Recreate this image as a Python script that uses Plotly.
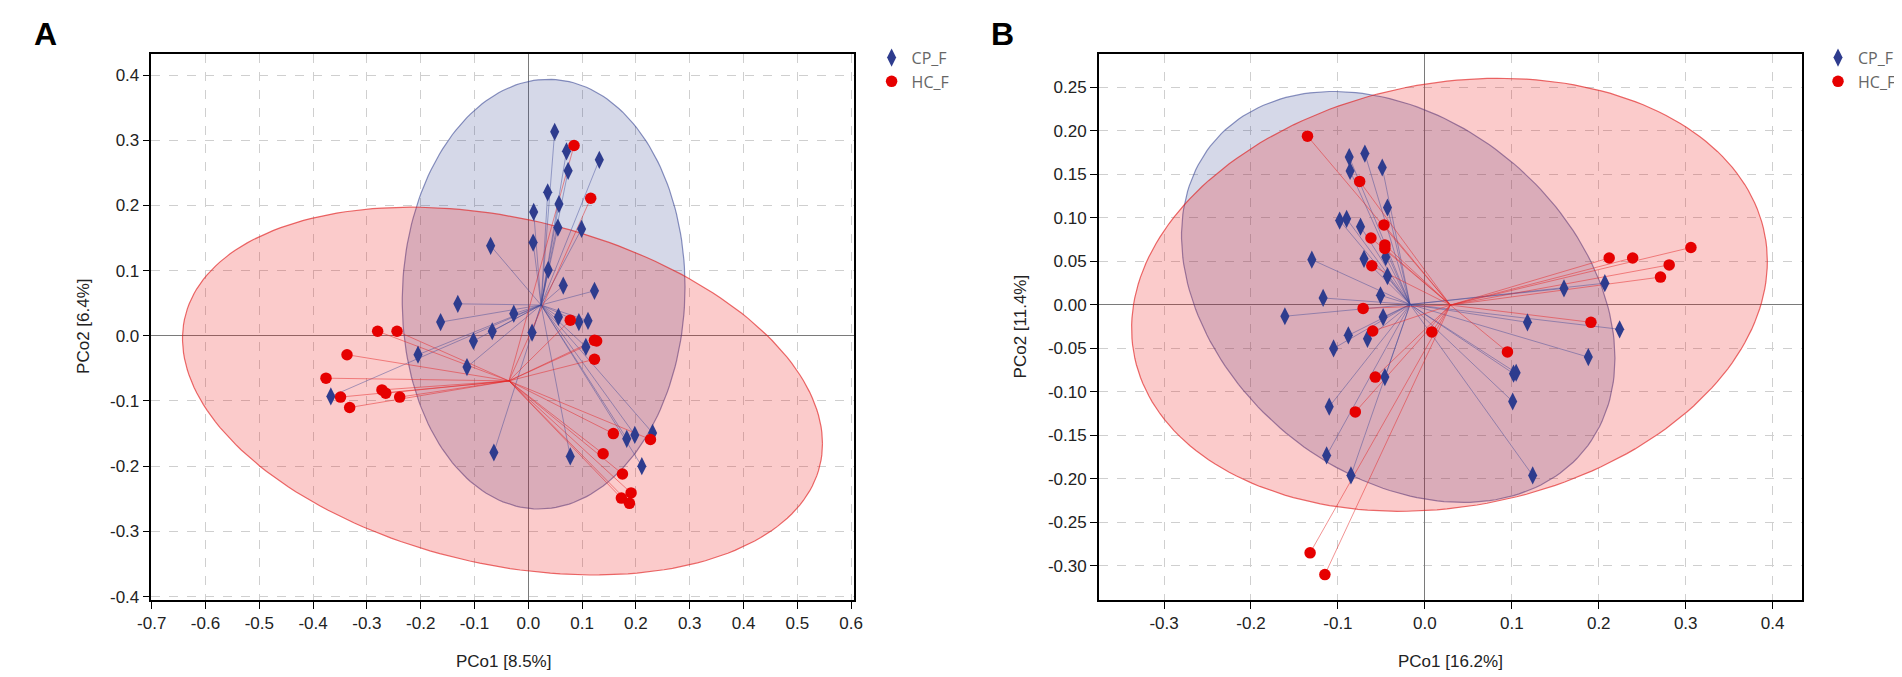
import numpy as np
import plotly.graph_objects as go
from plotly.subplots import make_subplots

# Panel A: PCoA scores (PCo1 8.5 %, PCo2 6.4 %)
a_cp_x = [0.049, 0.071, 0.074, 0.132, 0.036, 0.057, 0.010, 0.055, 0.099, 0.009, -0.070,
          0.037, 0.065, 0.123, -0.131, -0.027, -0.163, 0.056, 0.094, 0.111, -0.067, 0.007,
          -0.102, 0.107, -0.205, -0.114, -0.367, -0.064, 0.078, 0.183, 0.198, 0.231, 0.211]
a_cp_y = [0.313, 0.283, 0.253, 0.270, 0.220, 0.202, 0.190, 0.166, 0.164, 0.143, 0.138,
          0.101, 0.077, 0.069, 0.049, 0.034, 0.021, 0.029, 0.021, 0.023, 0.007, 0.005,
          -0.008, -0.017, -0.029, -0.048, -0.093, -0.179, -0.185, -0.158, -0.152, -0.149, -0.200]
a_hc_x = [0.085, 0.116, 0.078, -0.280, -0.244, 0.123, 0.127, -0.337, 0.123, -0.376, -0.349,
          -0.332, -0.272, -0.265, -0.239, 0.158, 0.227, 0.139, 0.175, 0.191, 0.173, 0.188]
a_hc_y = [0.292, 0.211, 0.024, 0.007, 0.007, -0.007, -0.008, -0.029, -0.036, -0.065, -0.094,
          -0.110, -0.083, -0.088, -0.094, -0.150, -0.159, -0.181, -0.212, -0.241, -0.249, -0.257]

# Panel B: PCoA scores (PCo1 16.2 %, PCo2 11.4 %)
b_cp_x = [-0.087, -0.069, -0.086, -0.049, -0.043, -0.098, -0.090, -0.074, -0.130, -0.070, -0.045,
          -0.043, -0.117, -0.051, -0.161, -0.048, -0.088, -0.066, -0.105, -0.046, -0.110, -0.113,
          -0.085, 0.160, 0.207, 0.118, 0.224, 0.188, 0.102, 0.105, 0.101, 0.124]
b_cp_y = [0.170, 0.174, 0.154, 0.158, 0.112, 0.097, 0.099, 0.090, 0.052, 0.053, 0.055,
          0.033, 0.008, 0.011, -0.013, -0.014, -0.035, -0.039, -0.050, -0.083, -0.117, -0.173,
          -0.196, 0.019, 0.025, -0.020, -0.028, -0.060, -0.079, -0.078, -0.111, -0.196]
b_hc_x = [-0.135, -0.075, -0.047, -0.062, -0.046, -0.046, -0.061, -0.071, -0.060, 0.008, -0.057,
          -0.080, -0.132, -0.115, 0.212, 0.239, 0.306, 0.281, 0.271, 0.191, 0.095]
b_hc_y = [0.194, 0.142, 0.092, 0.077, 0.069, 0.065, 0.045, -0.004, -0.030, -0.031, -0.083,
          -0.123, -0.285, -0.310, 0.054, 0.054, 0.066, 0.046, 0.032, -0.020, -0.054]

a_xticks = [-0.7, -0.6, -0.5, -0.4, -0.3, -0.2, -0.1, 0.0, 0.1, 0.2, 0.3, 0.4, 0.5, 0.6]
a_yticks = [-0.4, -0.3, -0.2, -0.1, 0.0, 0.1, 0.2, 0.3, 0.4]
b_xticks = [-0.3, -0.2, -0.1, 0.0, 0.1, 0.2, 0.3, 0.4]
b_yticks = [-0.30, -0.25, -0.20, -0.15, -0.10, -0.05, 0.00, 0.05, 0.10, 0.15, 0.20, 0.25]

CP_COL = '#2E3C8E'
HC_COL = '#E60000'
W, H = 1902, 677


def t_ellipse(x, y, level=0.95, nu=5, npts=200):
    # same as ggplot2 stat_ellipse(type = "t"): robust t covariance (cov.trob)
    pts = np.column_stack([x, y])
    n, p = pts.shape
    loc = pts.mean(axis=0)
    w = np.ones(n)
    for _ in range(25):
        w0 = w
        X = pts - loc
        C = (w[:, None] * X).T @ X / w.sum()
        Q = np.einsum('ij,jk,ik->i', X, np.linalg.inv(C), X)
        w = (nu + p) / (nu + Q)
        loc = (w[:, None] * pts).sum(axis=0) / w.sum()
        if np.all(np.abs(w - w0) < 0.01):
            break
    cov = (w[:, None] * X).T @ X / n
    d2 = n - 1
    fq = d2 / 2 * ((1 - level) ** (-2 / d2) - 1)
    radius = np.sqrt(2 * fq)
    t = np.linspace(0, 2 * np.pi, npts)
    circ = np.column_stack([np.cos(t), np.sin(t)])
    L = np.linalg.cholesky(cov)
    e = loc + radius * circ @ L.T
    return e[:, 0], e[:, 1]


def spider(x, y):
    cx, cy = np.mean(x), np.mean(y)
    xs, ys = [], []
    for xi, yi in zip(x, y):
        xs += [cx, xi, None]
        ys += [cy, yi, None]
    return xs, ys


fig = make_subplots(rows=1, cols=2)

panels = [
    (1, a_cp_x, a_cp_y, a_hc_x, a_hc_y, 'legend'),
    (2, b_cp_x, b_cp_y, b_hc_x, b_hc_y, 'legend2'),
]
for col, cx, cy, hx, hy, leg in panels:
    ex, ey = t_ellipse(cx, cy)
    fig.add_trace(go.Scatter(x=ex, y=ey, mode='lines', fill='toself',
                             fillcolor='rgba(46,60,142,0.2)',
                             line=dict(color='rgba(46,60,142,0.55)', width=1.2),
                             showlegend=False, hoverinfo='skip'), row=1, col=col)
    ex, ey = t_ellipse(hx, hy)
    fig.add_trace(go.Scatter(x=ex, y=ey, mode='lines', fill='toself',
                             fillcolor='rgba(235,20,20,0.22)',
                             line=dict(color='rgba(225,30,30,0.65)', width=1.2),
                             showlegend=False, hoverinfo='skip'), row=1, col=col)
    sx, sy = spider(cx, cy)
    fig.add_trace(go.Scatter(x=sx, y=sy, mode='lines',
                             line=dict(color='rgba(60,70,150,0.45)', width=1),
                             showlegend=False, hoverinfo='skip'), row=1, col=col)
    sx, sy = spider(hx, hy)
    fig.add_trace(go.Scatter(x=sx, y=sy, mode='lines',
                             line=dict(color='rgba(230,40,40,0.5)', width=1),
                             showlegend=False, hoverinfo='skip'), row=1, col=col)
    fig.add_trace(go.Scatter(x=cx, y=cy, mode='markers', name='CP_F', legend=leg,
                             marker=dict(symbol='diamond-tall', size=13, color=CP_COL)),
                  row=1, col=col)
    fig.add_trace(go.Scatter(x=hx, y=hy, mode='markers', name='HC_F', legend=leg,
                             marker=dict(symbol='circle', size=11.5, color=HC_COL)),
                  row=1, col=col)

axis_style = dict(showline=True, mirror=True, linecolor='black', linewidth=1.5,
                  ticks='outside', ticklen=7, tickcolor='black', tickwidth=1.2,
                  showgrid=True, gridcolor='#cfcfcf', griddash='dash', gridwidth=1,
                  zeroline=True, zerolinecolor='#7a7a7a', zerolinewidth=1,
                  tickfont=dict(family='Arial, Liberation Sans', size=17, color='#222'))

fig.update_xaxes(axis_style)
fig.update_yaxes(axis_style)

fig.update_xaxes(range=[-0.7005, 0.605], tickvals=a_xticks,
                 ticktext=[f'{v:.1f}' for v in a_xticks],
                 domain=[131 / W, 842 / W], row=1, col=1)
fig.update_yaxes(range=[-0.405, 0.433], tickvals=a_yticks,
                 ticktext=[f'{v:.1f}' for v in a_yticks],
                 domain=[1 - 598 / H, 1 - 46 / H], row=1, col=1)
fig.update_xaxes(range=[-0.375, 0.434], tickvals=b_xticks,
                 ticktext=[f'{v:.1f}' for v in b_xticks],
                 domain=[1090 / W, 1802 / W], row=1, col=2)
fig.update_yaxes(range=[-0.339, 0.289], tickvals=b_yticks,
                 ticktext=[f'{v:.2f}' for v in b_yticks],
                 domain=[1 - 598 / H, 1 - 46 / H], row=1, col=2)

leg_style = dict(font=dict(family='Open Sans, Noto Sans', size=16, color='#666'),
                 bgcolor='rgba(0,0,0,0)', xanchor='left', yanchor='top',
                 tracegroupgap=0, itemsizing='trace')
title_font = dict(family='Arial, Liberation Sans', size=17, color='#222')
label_font = dict(family='Arial, Liberation Sans', size=32, color='black')


def note(text, px, py, font, angle=0):
    return dict(text=text, x=px / W, y=1 - py / H, xref='paper', yref='paper',
                xanchor='center', yanchor='middle', showarrow=False,
                textangle=angle, font=font)


fig.update_layout(
    width=W, height=H,
    margin=dict(l=0, r=0, t=0, b=0),
    plot_bgcolor='white', paper_bgcolor='white',
    legend=dict(leg_style, x=860 / W, y=1 - 33 / H),
    legend2=dict(leg_style, x=1818 / W, y=1 - 33 / H),
    annotations=[
        note('<b>A</b>', 24, 26, label_font),
        note('<b>B</b>', 993, 26, label_font),
        note('PCo1 [8.5%]', 487, 660, title_font),
        note('PCo2 [6.4%]', 62, 322, title_font, -90),
        note('PCo1 [16.2%]', 1446, 660, title_font),
        note('PCo2 [11.4%]', 1011, 322, title_font, -90),
    ],
)

fig.write_html("out.html")
